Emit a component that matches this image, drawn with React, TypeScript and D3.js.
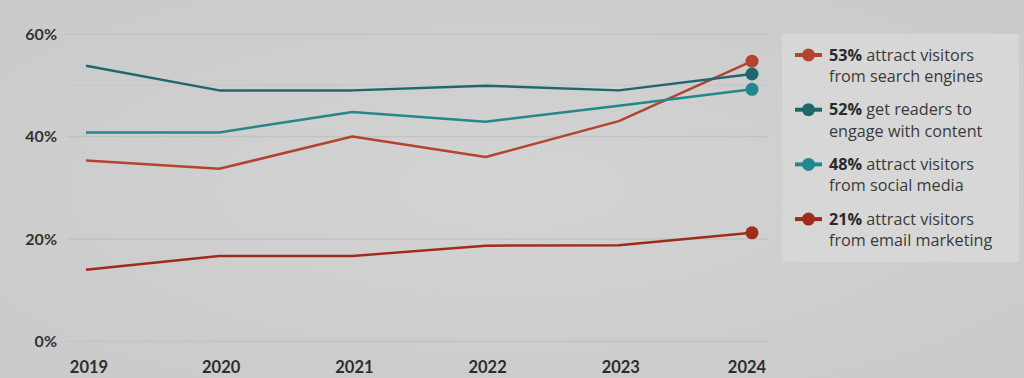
import React from "react";
import * as d3 from "d3";

const years = [2019, 2020, 2021, 2022, 2023, 2024];
const searchEngines = [35.3, 33.7, 40, 36, 43, 54.7];
const engageContent = [53.8, 49, 49, 49.9, 49, 52.2];
const socialMedia = [40.8, 40.8, 44.8, 42.9, 46, 49.2];
const emailMarketing = [14, 16.7, 16.7, 18.7, 18.8, 21.2];
const yTicks = [0, 20, 40, 60];
const gridValues = [0, 20, 40, 50, 60];

const seriesNames = ["search", "engage", "social", "email"];
const seriesValues = [searchEngines, engageContent, socialMedia, emailMarketing];
const seriesColors = ["#b3442f", "#1e686d", "#24878b", "#9f2b1d"];
const legendBold = ["53%", "52%", "48%", "21%"];
const legendLine1 = [" attract visitors", " get readers to", " attract visitors", " attract visitors"];
const legendLine2 = ["from search engines", "engage with content", "from social media", "from email marketing"];

export default function App() {
  const W = 1024, H = 378;
  const x = d3.scalePoint<number>().domain(years).range([86, 752]);
  const y = d3.scaleLinear().domain([0, 60]).range([341.5, 34]);
  const line = d3.line<number>().x((_, i) => x(years[i])!).y((d) => y(d));
  const font = "Lato, 'Open Sans', sans-serif";
  const legendFont = "'Open Sans', 'Noto Sans', sans-serif";
  return (
    <div style={{ position: "absolute", left: 0, top: 0 }}>
      <svg width={W} height={H} style={{ display: "block" }}>
        <defs>
          <radialGradient id="bg" cx="50%" cy="50%" r="70%">
            <stop offset="0%" stopColor="#d3d3d3" />
            <stop offset="100%" stopColor="#cacaca" />
          </radialGradient>
        </defs>
        <rect width={W} height={H} fill="url(#bg)" />
        {gridValues.map((v) => (
          <line key={v} x1={67} x2={768} y1={y(v)} y2={y(v)} stroke={v === 50 ? "#c8c8c8" : "#c2c2c2"} strokeWidth={1.5} />
        ))}
        {yTicks.map((v) => (
          <text key={v} x={57} y={y(v)} dy="0.36em" textAnchor="end" fontFamily={font} fontWeight={700} fontSize={16} fill="#333">
            {v}%
          </text>
        ))}
        {years.map((yr, i) => (
          <text key={yr} x={x(yr)! + (i === 0 ? 3 : i === years.length - 1 ? -5 : 2)} y={373} textAnchor="middle" fontFamily={font} fontWeight={700} fontSize={16.5} fill="#2e2e2e">
            {yr}
          </text>
        ))}
        {seriesValues.map((vals, i) => (
          <g key={seriesNames[i]}>
            <path d={line(vals)!} fill="none" stroke={seriesColors[i]} strokeWidth={2.5} strokeLinejoin="round" />
            <circle cx={x(years[years.length - 1])!} cy={y(vals[vals.length - 1])} r={6.5} fill={seriesColors[i]} />
          </g>
        ))}
        <rect x={782} y={34} width={237} height={228} fill="#d7d7d7" />
        {seriesNames.map((n, i) => {
          const cy = 55 + i * 54.7;
          return (
            <g key={n}>
              <line x1={795} x2={822} y1={cy} y2={cy} stroke={seriesColors[i]} strokeWidth={4} />
              <circle cx={808.5} cy={cy} r={6.5} fill={seriesColors[i]} />
              <text x={829} y={cy + 5.5} fontFamily={legendFont} fontSize={16.2} fill="#3a3a3a">
                <tspan fontWeight={700} fill="#2a2a2a">{legendBold[i]}</tspan>
                <tspan>{legendLine1[i]}</tspan>
              </text>
              <text x={829} y={cy + 27} fontFamily={legendFont} fontSize={16.2} fill="#3a3a3a">
                {legendLine2[i]}
              </text>
            </g>
          );
        })}
      </svg>
    </div>
  );
}
